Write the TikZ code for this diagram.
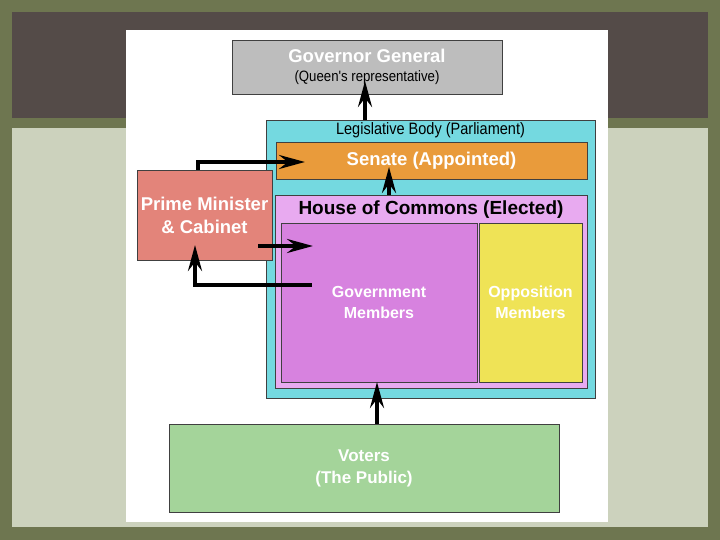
\documentclass[tikz,border=0pt]{standalone}
\usepackage{fontspec}
\setmainfont{Liberation Sans}
\newfontfamily\narrowfont[FakeStretch=0.88]{Liberation Sans}
\usetikzlibrary{arrows.meta, positioning, calc}

\definecolor{olivebg}{HTML}{6E7650}
\definecolor{darkband}{HTML}{544B48}
\definecolor{lightpanel}{HTML}{CCD2BD}
\definecolor{govgray}{HTML}{BDBDBD}
\definecolor{legiscyan}{HTML}{74D9E0}
\definecolor{senateorange}{HTML}{E99B3B}
\definecolor{commonspink}{HTML}{E8AAF0}
\definecolor{govviolet}{HTML}{D782DF}
\definecolor{oppyellow}{HTML}{EFE356}
\definecolor{pmred}{HTML}{E3847A}
\definecolor{votergreen}{HTML}{A4D49A}

\begin{document}
\begin{tikzpicture}[
  x=1pt, y=-1pt,
  box/.style={
    draw=black!75, line width=0.9pt, inner sep=0pt,
    align=center, text=white
  },
  bigfont/.style={font=\fontsize{18.5}{23}\selectfont\bfseries},
  midfont/.style={font=\fontsize{16}{21}\selectfont\bfseries},
  arr/.style={-{Stealth[length=26pt, width=14pt, inset=9pt]}, line width=3.8pt}
]

% background slide
\fill[olivebg] (0,0) rectangle (720,540);
\fill[darkband] (12,12) rectangle (708,118);
\fill[lightpanel] (12,128) rectangle (708,527);
\fill[white] (126,30) rectangle (608,522);

% 1. Governor General
\node[box, fill=govgray, font=\fontsize{18.5}{19}\selectfont,
  minimum width=270, minimum height=54] (gg) at (367,67) {
  \textbf{Governor General} \\[0pt]
  {\narrowfont\fontsize{15}{17}\selectfont\color{black} (Queen's representative)}
};

% 2. Parliament with its two houses
\node[box, fill=legiscyan, minimum width=329, minimum height=278] (legis) at (430.5,259) {};
\node[below=3pt of legis.north, inner sep=0pt,
  font=\narrowfont\fontsize{16.5}{18}\selectfont] (legislabel) {Legislative Body (Parliament)};

\node[box, fill=senateorange, bigfont, minimum width=311, minimum height=37] (senate) at (431.5,160.5) {Senate (Appointed)};

\node[box, fill=commonspink, minimum width=312, minimum height=193] (commons) at (431,291.5) {};
\node[below=6pt of commons.north, inner sep=0pt, text=black,
  font=\fontsize{19}{22}\selectfont\bfseries] (commonslabel) {House of Commons (Elected)};

\node[box, fill=govviolet, midfont, minimum width=196, minimum height=159] (gov) at (379,302.5) {Government\\Members};
\node[box, fill=oppyellow, midfont, minimum width=103, minimum height=159] (opp) at (530.5,302.5) {Opposition\\Members};

% 3. Prime Minister and voters
\node[box, fill=pmred, bigfont, minimum width=135, minimum height=90] (pm) at (204.5,215) {Prime Minister\\\& Cabinet};
\node[box, fill=votergreen, font=\fontsize{17}{22}\selectfont\bfseries,
  minimum width=390, minimum height=88] (voters) at (364,468) {Voters\\(The Public)};

% arrow ends
\coordinate (ggtip) at (365,81);
\coordinate (sentip) at (389,167);
\coordinate (pmsen) at (305,162);
\coordinate (pmout) at (258,246);
\coordinate (govtip) at (313,246);
\coordinate (govout) at (312,285);
\coordinate (pmtip) at (195,245);
\coordinate (votetip) at (377,382);

% Arrows
\draw[arr] (legis.north -| ggtip) -- (ggtip);
\draw[arr] (commons.north -| sentip) -- (sentip);
\draw[arr] ([xshift=-6.5pt]pm.north) |- (pmsen);
\draw[arr] (pmout) -- (govtip);
\draw[arr] (govout) -| (pmtip);
\draw[arr] (voters.north -| votetip) -- (votetip);

\end{tikzpicture}
\end{document}
